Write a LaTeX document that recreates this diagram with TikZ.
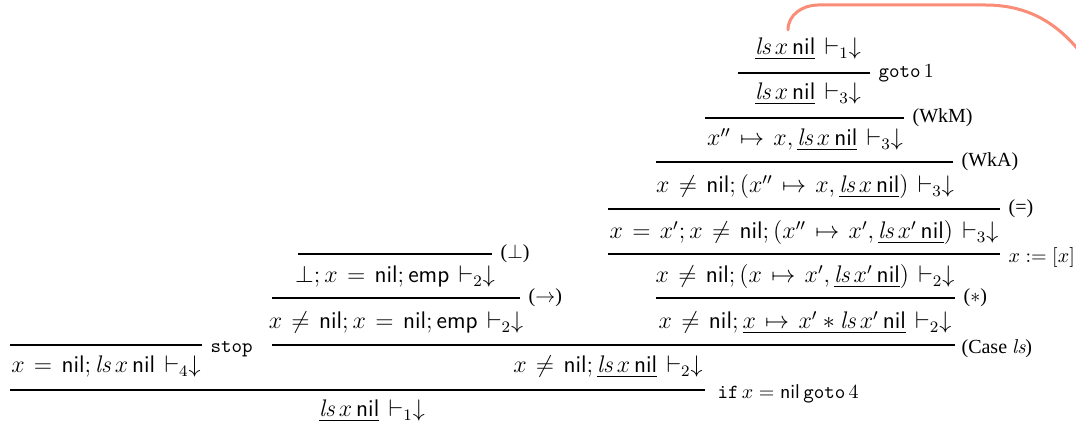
\documentclass[tikz,border=0pt]{standalone}
\usepackage{fontspec}
\newfontfamily\rn{Liberation Serif}
\newcommand{\nl}{\mathsf{nil}}
\newcommand{\lsx}[1]{\mathit{ls}\,#1\,\nl}
\begin{document}
\begin{tikzpicture}[x=0.5pt,y=-0.5pt,
  j/.style={inner sep=0pt, anchor=base, font=\fontsize{12}{14}\selectfont,
    execute at begin node={\thickmuskip=7mu plus 5mu\relax}},
  lab/.style={font=\fontsize{10}{12}\selectfont, anchor=west, inner sep=0pt},
  rl/.style={line width=0.6pt},
  back/.style={line width=1.5pt, draw={rgb,255:red,250;green,140;blue,120}, line cap=round}]
\useasboundingbox (0,0) rectangle (1076,431);
% right tree
\node[j] (t1) at (808,55) {$\underline{\lsx{x}}\vdash_1\downarrow$};
\node[j] (t2) at (808,100) {$\underline{\lsx{x}}\vdash_3\downarrow$};
\node[j] (t3) at (805,146) {$x''\mapsto x, \underline{\lsx{x}}\vdash_3\downarrow$};
\node[j] (t4) at (805,193) {$x\neq\nl; (x''\mapsto x, \underline{\lsx{x}})\vdash_3\downarrow$};
\node[j] (t5) at (804,239) {$x=x'; x\neq\nl; (x''\mapsto x', \underline{\lsx{x'}})\vdash_3\downarrow$};
\node[j] (t6) at (805,283) {$x\neq\nl; (x\mapsto x', \underline{\lsx{x'}})\vdash_2\downarrow$};
\node[j] (t7) at (805,329) {$x\neq\nl; \underline{x\mapsto x' * \lsx{x'}}\vdash_2\downarrow$};
\draw[rl] (738,73) -- (870,73) node[lab, right=4pt] {\texttt{goto}\,1};
\draw[rl] (705,118) -- (904,118) node[lab, right=4pt] {\rn (WkM)};
\draw[rl] (656,162) -- (953,162) node[lab, right=4pt] {\rn (WkA)};
\draw[rl] (608,209) -- (1000,209) node[lab, right=4pt] {\rn (=)};
\draw[rl] (608,254) -- (1000,254) node[lab, right=4pt, yshift=-2pt] {$x:=[x]$};
\draw[rl] (656,298) -- (955,298) node[lab, right=4pt] {\rn ($*$)};
% left subtree
\node[j] (l1) at (395,283) {$\bot; x=\nl; \mathsf{emp}\vdash_2\downarrow$};
\node[j] (l2) at (396,329) {$x\neq\nl; x=\nl; \mathsf{emp}\vdash_2\downarrow$};
\draw[rl] (298,254) -- (492,254) node[lab, right=4pt] {\rn ($\bot$)};
\draw[rl] (272,298) -- (520,298) node[lab, right=4pt] {\rn ($\rightarrow$)};
% case
\draw[rl] (272,345) -- (955,345) node[lab, right=3pt, yshift=-2pt] {\rn (Case $\mathit{ls}$)};
\node[j] (m) at (608,373) {$x\neq\nl; \underline{\lsx{x}}\vdash_2\downarrow$};
% stop
\draw[rl] (10,345) -- (202,345) node[lab, right=4pt, yshift=-2pt] {\texttt{stop}};
\node[j] (s) at (106,373) {$x=\nl; \mathit{ls}\,x\,\nl\vdash_4\downarrow$};
% bottom
\draw[rl] (10,390) -- (705,390) node[lab, right=6pt, yshift=-2pt] {\texttt{if}\,$x=\nl\,$\texttt{goto}\,4};
\node[j] (b) at (372,417) {$\underline{\lsx{x}}\vdash_1\downarrow$};
% back edge from the top goal
\begin{scope}
\clip (0,0) rectangle (1076,431);
\draw[back] ([shift={(-20,-8)}]t1.north) to[out=90,in=180] (818,5) -- (985,5) to[out=0,in=125] (1090,65);
\end{scope}
\end{tikzpicture}
\end{document}
